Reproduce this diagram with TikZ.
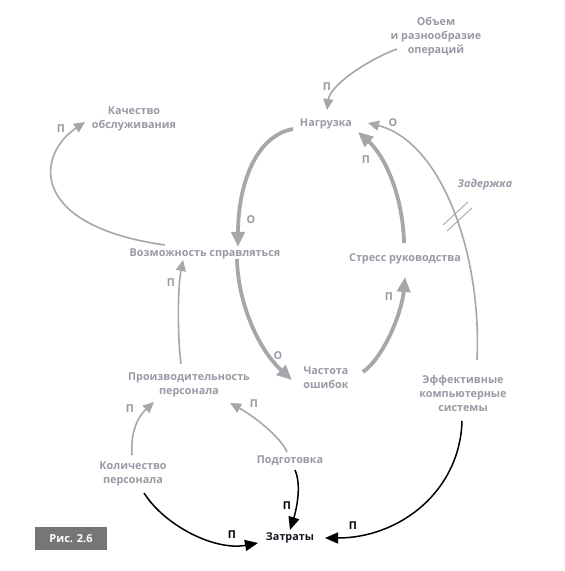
\documentclass[tikz,border=0pt]{standalone}
\usepackage{fontspec}
\setmainfont{Open Sans}
\usetikzlibrary{arrows.meta}
\definecolor{tgrey}{RGB}{152,153,164}
\definecolor{agrey}{RGB}{166,166,171}
\definecolor{figgrey}{RGB}{118,118,118}
\definecolor{darktext}{RGB}{22,22,34}
\begin{document}
\begin{tikzpicture}[x=1pt,y=1pt,
  lbl/.style={font=\bfseries\fontsize{10.8}{14}\selectfont, text=tgrey, align=center, inner sep=0pt},
  sgn/.style={font=\bfseries\fontsize{10.8}{13}\selectfont, text=tgrey, inner sep=0pt},
  bsgn/.style={sgn, text=black},
  thickarr/.style={draw=agrey, line width=3.8pt, -{Triangle[length=15pt,width=13pt]}},
  thinarr/.style={draw=agrey, line width=1.6pt, -{Triangle[length=11pt,width=10pt]}},
  blackarr/.style={draw=black, line width=1.5pt, -{Triangle[length=13pt,width=11pt]}},
  delaymark/.style={draw=agrey, line width=0.9pt},
]
\useasboundingbox (0,0) rectangle (565,571);

% nodes
\node[lbl] (vol) at (436,534) {Объем\\и разнообразие\\операций};
\node[lbl] (load) at (326,447) {Нагрузка};
\node[lbl] (qual) at (134,452) {Качество\\обслуживания};
\node[lbl, font=\bfseries\itshape\fontsize{10.8}{14}\selectfont] (delay) at (485,386) {Задержка};
\node[lbl] (stress) at (405,312) {Стресс руководства};
\node[lbl] (cope) at (205,317) {Возможность справляться};
\node[lbl] (prod) at (189,186.5) {Производительность\\персонала};
\node[lbl] (err) at (326,193) {Частота\\ошибок};
\node[lbl] (comp) at (463,178) {Эффективные\\компьютерные\\системы};
\node[lbl] (num) at (133,97) {Количество\\персонала};
\node[lbl] (train) at (290,110) {Подготовка};
\node[lbl, text=darktext] (cost) at (290,33) {Затраты};
\node[fill=figgrey, minimum width=72pt, minimum height=23pt, inner sep=0pt,
      text=white, font=\bfseries\fontsize{11}{13}\selectfont] (fig) at (71,32.5) {Рис. 2.6};

% polarity labels
\node[sgn] (s1) at (327,484) {П};
\node[sgn] (s2) at (393,448) {О};
\node[sgn] (s3) at (366,411) {П};
\node[sgn] (s4) at (251,351) {О};
\node[sgn] (s5) at (278,215) {О};
\node[sgn] (s6) at (389,274) {П};
\node[sgn] (s7) at (61,442) {П};
\node[sgn] (s8) at (171,288) {П};
\node[sgn] (s9) at (130,162) {П};
\node[sgn] (s10) at (254,167) {П};
\node[bsgn] (s11) at (232,36) {П};
\node[bsgn] (s12) at (287,65) {П};
\node[bsgn] (s13) at (353,45) {П};

% main loop (thick)
\draw[thickarr] ([shift={(-33,-5)}]load.center) .. controls (255,435) and (238,385) .. ([shift={(33,7)}]cope.center);
\draw[thickarr] ([shift={(32,-5)}]cope.center) .. controls (238,268) and (258,222) .. ([shift={(-34,-2)}]err.center);
\draw[thickarr] ([shift={(37,6)}]err.center) .. controls (385,215) and (402,260) .. ([shift={(0,-18)}]stress.center);
\draw[thickarr] ([shift={(-1,16)}]stress.center) .. controls (403,375) and (385,415) .. ([shift={(32,-8)}]load.center);

% thin grey
\draw[thinarr] ([shift={(-39,-12)}]vol.center) .. controls (365,510) and (330,485) .. ([shift={(1,14)}]load.center);
\draw[thinarr] ([shift={(14,33)}]comp.center) .. controls (482,320) and (440,430) .. ([shift={(42,1)}]load.center);
\draw[thinarr] ([shift={(-40,9)}]cope.center) .. controls (30,345) and (35,415) .. ([shift={(-49,-3)}]qual.center);
\draw[thinarr] ([shift={(-8,20.5)}]prod.center) .. controls (177,240) and (178,285) .. ([shift={(-22,-6)}]cope.center);
\draw[thinarr] ([shift={(-1,19)}]num.center) .. controls (130,145) and (142,158) .. ([shift={(-35,-17.5)}]prod.center);
\draw[thinarr] ([shift={(-3,9)}]train.center) .. controls (280,135) and (252,156) .. ([shift={(41,-18.5)}]prod.center);

% delay mark
\draw[delaymark] (443,346) -- (468,369);
\draw[delaymark] (447,340) -- (472,363);

% black to costs
\draw[blackarr] ([shift={(11,-19)}]num.center) .. controls (165,45) and (215,20) .. ([shift={(-32,-5)}]cost.center);
\draw[blackarr] ([shift={(5,-9)}]train.center) .. controls (302,85) and (296,60) .. ([shift={(0,8)}]cost.center);
\draw[blackarr] ([shift={(-1,-28)}]comp.center) .. controls (460,80) and (400,33) .. ([shift={(35,0)}]cost.center);
\end{tikzpicture}
\end{document}
